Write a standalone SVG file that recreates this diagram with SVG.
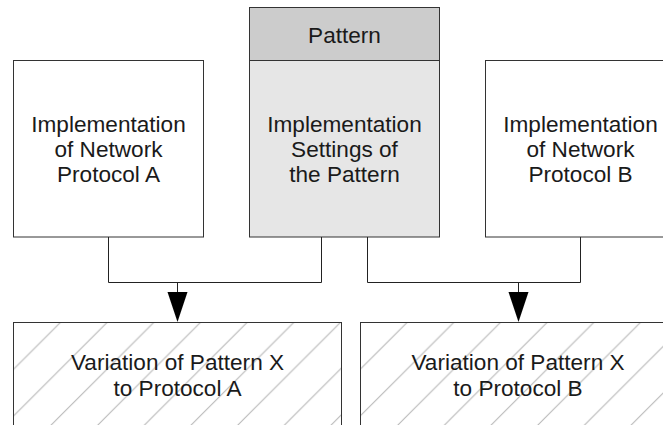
<svg xmlns="http://www.w3.org/2000/svg" width="663" height="425" viewBox="0 0 663 425">
<style>
.box{stroke:#333;stroke-width:1;}
.t{font-family:"Liberation Sans",Arial,sans-serif;font-size:22.6px;fill:#1a1a1a;text-anchor:middle;}
.c{fill:none;stroke:#222;stroke-width:1;}
.h{stroke:#b3b3b3;stroke-width:1;fill:none;}
</style>
<defs>
<pattern id="hatchA" patternUnits="userSpaceOnUse" x="9.5" y="0" width="46.67" height="46.67">
<path class="h" d="M0,46.67 L46.67,0 M-2,2 L2,-2 M44.67,48.67 L48.67,44.67"/>
</pattern>
<pattern id="hatchB" patternUnits="userSpaceOnUse" x="29.5" y="0" width="46.67" height="46.67">
<path class="h" d="M0,46.67 L46.67,0 M-2,2 L2,-2 M44.67,48.67 L48.67,44.67"/>
</pattern>
</defs>
<rect width="663" height="425" fill="#fff"/>
<g id="protocolA">
<rect class="box" x="13.5" y="60.5" width="190" height="176.5" fill="#fff"/>
<text class="t" x="108.5" y="131.5">Implementation</text>
<text class="t" x="108.5" y="157">of Network</text>
<text class="t" x="108.5" y="182">Protocol A</text>
</g>
<g id="pattern">
<rect class="box" x="249.5" y="7.5" width="190" height="53" fill="#cccccc"/>
<rect class="box" x="249.5" y="60.5" width="190" height="176.5" fill="#e6e6e6"/>
<text class="t" x="344.5" y="43">Pattern</text>
<text class="t" x="344.5" y="131.5">Implementation</text>
<text class="t" x="344.5" y="157">Settings of</text>
<text class="t" x="344.5" y="182">the Pattern</text>
</g>
<g id="protocolB">
<rect class="box" x="485.5" y="60.5" width="190" height="176.5" fill="#fff"/>
<text class="t" x="580.5" y="131.5">Implementation</text>
<text class="t" x="580.5" y="157">of Network</text>
<text class="t" x="580.5" y="182">Protocol B</text>
</g>
<g id="variationA">
<rect x="13.5" y="322.5" width="328" height="130" fill="#fff"/>
<rect class="box" x="13.5" y="322.5" width="328" height="130" fill="url(#hatchA)"/>
<text class="t" x="177.5" y="370">Variation of Pattern X</text>
<text class="t" x="177.5" y="396">to Protocol A</text>
</g>
<g id="variationB">
<rect x="360.5" y="322.5" width="315" height="130" fill="#fff"/>
<rect class="box" x="360.5" y="322.5" width="315" height="130" fill="url(#hatchB)"/>
<text class="t" x="518" y="370">Variation of Pattern X</text>
<text class="t" x="518" y="396">to Protocol B</text>
</g>
<g id="connectors">
<path class="c" d="M108.5,237 V282.5 H321.5 V237 M177.5,282.5 V293"/>
<polygon points="167.5,292 187.5,292 177.5,322" fill="#000"/>
<path class="c" d="M367.5,237 V282.5 H580.5 V237 M518.5,282.5 V293"/>
<polygon points="508.5,292 528.5,292 518.5,322" fill="#000"/>
</g>
</svg>
